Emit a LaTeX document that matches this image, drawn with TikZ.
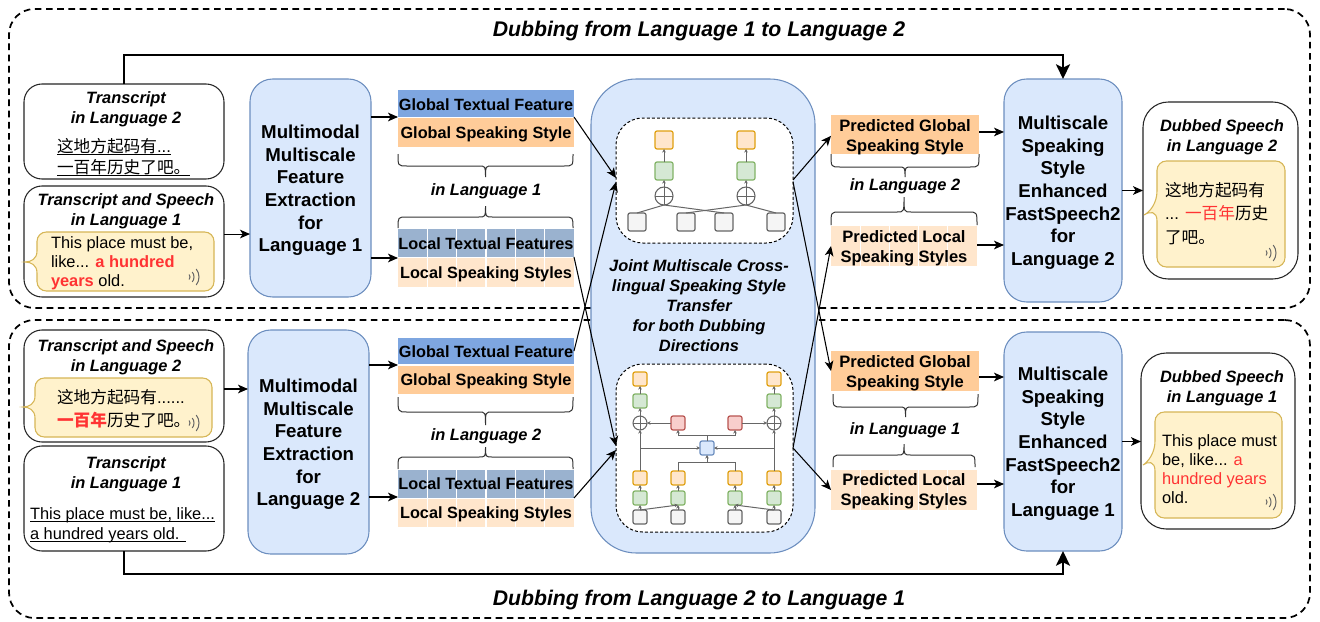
\documentclass[tikz,border=0pt]{standalone}
\usepackage{fontspec}
\setmainfont{Liberation Sans}
\newfontfamily\cjk{Noto Sans CJK SC}
\usetikzlibrary{arrows.meta,calc}
\definecolor{bluefill}{HTML}{DAE8FC}
\definecolor{bluedraw}{HTML}{6C8EBF}
\definecolor{gtfc}{HTML}{7EA6E0}
\definecolor{gssc}{HTML}{FFCC99}
\definecolor{ltfc}{HTML}{9AB2CF}
\definecolor{lssc}{HTML}{FFE6CC}
\definecolor{bubfill}{HTML}{FFF2CC}
\definecolor{bubdraw}{HTML}{D6B656}
\definecolor{txtred}{HTML}{FF3333}
\definecolor{netgray}{HTML}{666666}
\definecolor{ngf}{HTML}{D5E8D4}
\definecolor{ngd}{HTML}{82B366}
\definecolor{nod}{HTML}{E0A010}
\definecolor{nrf}{HTML}{F8CECC}
\definecolor{nrd}{HTML}{B85450}
\definecolor{ngr}{HTML}{F5F5F5}
\newcommand{\bx}[7]{%
  \pgfmathsetmacro\bxcx{(#3+#5)/2}%
  \pgfmathsetmacro\bxcy{(#4+#6)/2}%
  \pgfmathsetmacro\bxw{(#5-#3)*0.75}%
  \pgfmathsetmacro\bxh{(#6-#4)*0.75}%
  \node[#1,minimum width=\bxw pt,minimum height=\bxh pt] (#2) at (\bxcx,\bxcy) {#7};}
\newcommand{\sq}[5]{\node[#1,minimum size=#5] (#2) at (#3,#4) {};}
\newcommand{\harr}[3]{\draw[arr] ([yshift=#3]#1.east) -- ([yshift=#3]#1.east -| #2.west);}
\newcommand{\ul}[1]{\underline{\raisebox{0pt}[\height][0pt]{#1}}}
\newcommand{\tsb}{\rule{0pt}{13.6pt}}
\newcommand{\brcdown}[5]{% x0 x1 yEnd yBar yTip
  \pgfmathsetmacro\bm{(#1+#2)/2}%
  \draw[brc] (#1,#3) .. controls (#1,#4) and (#1,#4) .. ({#1+9},#4) -- ({\bm-7},#4)
     .. controls (\bm,#4) and (\bm,#4) .. (\bm,#5)
     (\bm,#5) .. controls (\bm,#4) and (\bm,#4) .. ({\bm+7},#4) -- ({#2-9},#4)
     .. controls (#2,#4) and (#2,#4) .. (#2,#3);}
\newcommand{\spk}[2]{%
  \foreach \r in {4,8,13}{\draw[bubicon] ([shift={(#1,#2)}]-38:\r) arc[start angle=-38,end angle=38,radius=\r];}}
\newcommand{\bubL}[6]{%
  \draw[bubble] (#1,{#6+11}) [rounded corners=7pt] -- (#1,#4) -- (#3,#4) -- (#3,#2) -- (#1,#2) [sharp corners] -- (#1,{#6-11})
    .. controls (#1,{#6-3}) and ({#1-6},#6) .. (#5,#6) .. controls ({#1-6},#6) and (#1,{#6+3}) .. (#1,{#6+11}) -- cycle;}
\newcommand{\bubR}[6]{%
  \draw[bubble] (#1,{#6+6}) [rounded corners=7pt] -- (#1,#4) -- (#3,#4) -- (#3,#2) -- (#1,#2) [sharp corners] -- (#1,{#6-24})
    .. controls (#1,{#6-12}) and ({#1-7},{#6-3}) .. (#5,#6) .. controls ({#1-7},{#6-4}) and (#1,{#6-4}) .. (#1,{#6+6}) -- cycle;}
\tikzset{
  x=.75pt,y=-.75pt,
  every node/.style={inner sep=0pt,outer sep=0pt},
  frame/.style={draw=black,dash pattern=on 5pt off 3.4pt,line width=1.3pt,fill=white,rounded corners=19pt},
  inbox/.style={draw=black!85,line width=.8pt,fill=white,rounded corners=13.5pt},
  tshift/.style={execute at begin node={\rule{0pt}{#1}}},
  bluebox/.style={draw=bluedraw,line width=.8pt,fill=bluefill,rounded corners=17pt,align=center,
     font=\fontsize{14}{17}\selectfont\bfseries},
  bar/.style={fill=#1,font=\fontsize{12.2}{15}\selectfont\bfseries,align=center},
  pbar/.style={fill=#1},
  ptxt/.style={font=\fontsize{12.4}{15}\selectfont\bfseries,align=center},
  cells/.style={path picture={\foreach \i in {1,...,\numexpr#1-1\relax}{
     \draw[white,line width=.8pt] ($(path picture bounding box.south west)!\i/#1!(path picture bounding box.south east)$) --
        ($(path picture bounding box.north west)!\i/#1!(path picture bounding box.north east)$);}}},
  ttl/.style={font=\fontsize{12.3}{15}\selectfont\bfseries\itshape,align=center},
  big/.style={font=\fontsize{15.9}{19}\selectfont\bfseries\itshape},
  body/.style={font=\fontsize{12.3}{14.25}\selectfont,align=left,anchor=west},
  cjkbody/.style={font=\fontsize{12.5}{16}\selectfont,align=left,anchor=west},
  arr/.style={draw=black,line width=.8pt,-{Stealth[length=7.5pt,width=6.5pt,inset=2pt]}},
  bigarr/.style={draw=black,line width=1.6pt,-{Stealth[length=11pt,width=10.5pt,inset=2.5pt]}},
  brc/.style={draw=black!80,line width=.75pt},
  bubble/.style={draw=bubdraw,fill=bubfill,line width=.8pt},
  bubicon/.style={draw=black!60,line width=.75pt},
  dashbox/.style={draw=black,fill=white,dash pattern=on 2.2pt off 1.6pt,line width=.75pt,rounded corners=20pt},
  ns/.style={rectangle,rounded corners=1.5pt,line width=.9pt},
  gr/.style={ns,draw=netgray,fill=ngr},
  gn/.style={ns,draw=ngd,fill=ngf},
  og/.style={ns,draw=nod,fill=lssc},
  rd/.style={ns,draw=nrd,fill=nrf},
  bl/.style={ns,draw=bluedraw,fill=bluefill},
  crc/.style={circle,draw=netgray,line width=.8pt,fill=none},
  nl/.style={draw=netgray,line width=.75pt},
  na/.style={draw=netgray,line width=.75pt,-{Stealth[length=2.6pt,width=2.6pt]}},
}
\begin{document}
\begin{tikzpicture}
\useasboundingbox (0,0) rectangle (1320,621);
% frames
\bx{frame}{fr1}{9}{9}{1310}{308}{}
\bx{frame}{fr2}{9}{320}{1310}{618}{}
\node[big] (tt1) at (699,31) {Dubbing from Language 1 to Language 2};
\node[big] (tt2) at (699,600) {Dubbing from Language 2 to Language 1};
% left boxes upper
\bx{inbox}{t2}{24}{84}{224}{179}{}
\node[ttl] (t2a) at (126,109) {Transcript\\in Language 2};
\node[cjkbody,font=\fontsize{12.5}{15.75}\selectfont] (t2b) at (57,157) {\ul{{\cjk 这地方起码有}...}\\\ul{{\cjk 一百年历史了吧。}}};
\bx{inbox}{tsl1}{24}{186}{224}{297}{}
\node[ttl] (tsl1a) at (126,211) {Transcript and Speech\\in Language 1};
\bubL{37}{232}{214}{291}{25}{262}
\node[body] (tsl1b) at (51,263.5) {This place must be,\\like... \textcolor{txtred}{\bfseries a hundred}\\\textcolor{txtred}{\bfseries years} old.};
\spk{186}{277}
% left boxes lower
\bx{inbox}{tsl2}{24}{330}{224}{442}{}
\node[ttl] (tsl2a) at (126,357) {Transcript and Speech\\in Language 2};
\bubL{35}{378}{212}{437}{23}{407}
\node[cjkbody,font=\fontsize{12.5}{17}\selectfont] (tsl2b) at (57,409) {{\cjk 这地方起码有}......\\\textcolor{txtred}{\cjk\bfseries 一百年}{\cjk 历史了吧。}};
\spk{186}{423}
\bx{inbox}{t1}{24}{446}{224}{551}{}
\node[ttl] (t1a) at (126,474) {Transcript\\in Language 1};
\node[body,font=\fontsize{12.3}{15}\selectfont] (t1b) at (30,525) {\ul{This place must be, like...}\\\ul{a hundred years old. }};
% blue extraction boxes
\bx{bluebox}{m1}{250}{79}{371}{297}{\tsb Multimodal\\Multiscale\\Feature\\Extraction\\for\\Language 1}
\bx{bluebox}{m2}{248}{330}{369}{554}{\tsb Multimodal\\Multiscale\\Feature\\Extraction\\for\\Language 2}
% feature bars upper
\bx{bar=gtfc,tshift=11pt}{gtf1}{398}{90}{574}{117}{Global Textual Feature}
\bx{bar=gssc,tshift=11pt}{gss1}{398}{118}{574}{147}{Global Speaking Style}
\bx{bar=ltfc,cells=6,tshift=9.5pt}{ltf1}{398}{229}{574}{257}{Local Textual Features}
\bx{bar=lssc,cells=6,tshift=11pt}{lss1}{398}{258}{574}{287}{Local Speaking Styles}
\brcdown{398}{573}{154}{166}{177}
\node[ttl] (il1) at (486,191) {in Language 1};
\brcdown{398}{573}{228}{217}{206}
% feature bars lower
\bx{bar=gtfc,tshift=9.5pt}{gtf2}{398}{338}{574}{364}{Global Textual Feature}
\bx{bar=gssc,tshift=11pt}{gss2}{398}{366}{574}{394}{Global Speaking Style}
\bx{bar=ltfc,cells=6,tshift=8.5pt}{ltf2}{398}{470}{574}{498}{Local Textual Features}
\bx{bar=lssc,cells=6,tshift=11pt}{lss2}{398}{499}{574}{527}{Local Speaking Styles}
\brcdown{398}{573}{397}{412}{425}
\node[ttl] (il2) at (486,436) {in Language 2};
\brcdown{398}{573}{469}{457}{447}
% centre
\bx{draw=bluedraw,line width=.8pt,fill=bluefill,rounded corners=34pt}{cb}{591}{79}{815}{553}{}
\bx{dashbox}{ud}{616}{118}{793}{243}{}
\bx{dashbox}{ld}{616}{364}{793}{532}{}
\node[ttl] (jt) at (699,305.5) {Joint Multiscale Cross-\\lingual Speaking Style\\Transfer\\for both Dubbing\\Directions};
% upper network
\sq{og}{ua1}{664}{140}{13.5pt}\sq{og}{ua2}{746}{140}{13.5pt}
\sq{gn}{ub1}{664}{171}{13.5pt}\sq{gn}{ub2}{746}{171}{13.5pt}
\node[crc,minimum size=13.5pt] (uc1) at (664,196) {};
\node[crc,minimum size=13.5pt] (uc2) at (746,196) {};
\sq{gr}{ug1}{637}{222}{13.5pt}\sq{gr}{ug2}{686}{222}{13.5pt}
\sq{gr}{ug3}{724}{222}{13.5pt}\sq{gr}{ug4}{776}{222}{13.5pt}
\draw[nl] (uc1.north)--(uc1.south) (uc1.west)--(uc1.east) (uc2.north)--(uc2.south) (uc2.west)--(uc2.east);
\draw[na] (ub1.north)--(ua1.south);
\draw[na] (ub2.north)--(ua2.south);
\draw[na] (uc1.north)--(ub1.south);
\draw[na] (uc2.north)--(ub2.south);
\draw[nl] (ug1.north)--(uc1.south);
\draw[nl] (ug3.north)--(uc1.south);
\draw[nl] (ug2.north)--(uc2.south);
\draw[nl] (ug4.north)--(uc2.south);
% lower network
\coordinate (hb) at (707,435);
\coordinate (hc) at (707,462);
\sq{og}{la1}{640}{379}{10.5pt}\sq{og}{la2}{774}{379}{10.5pt}
\sq{gn}{lb1}{640}{401}{10.5pt}\sq{gn}{lb2}{774}{401}{10.5pt}
\node[crc,minimum size=10.5pt] (lc1) at (640,423) {};
\node[crc,minimum size=10.5pt] (lc2) at (774,423) {};
\sq{rd}{lr1}{678}{423}{10.5pt}\sq{rd}{lr2}{735}{423}{10.5pt}
\sq{bl}{lq}{707}{448}{10.5pt}
\sq{og}{lo1}{640}{478}{10.5pt}\sq{og}{lo2}{678}{478}{10.5pt}\sq{og}{lo3}{735}{478}{10.5pt}\sq{og}{lo4}{774}{478}{10.5pt}
\sq{gn}{lg1}{640}{498}{10.5pt}\sq{gn}{lg2}{678}{498}{10.5pt}\sq{gn}{lg3}{735}{498}{10.5pt}\sq{gn}{lg4}{774}{498}{10.5pt}
\sq{gr}{lh1}{640}{517}{10.5pt}\sq{gr}{lh2}{678}{517}{10.5pt}\sq{gr}{lh3}{735}{517}{10.5pt}\sq{gr}{lh4}{774}{517}{10.5pt}
\draw[nl] (lc1.north)--(lc1.south) (lc1.west)--(lc1.east) (lc2.north)--(lc2.south) (lc2.west)--(lc2.east);
\foreach \c in {1,2}{
  \draw[na] (lb\c.north)--(la\c.south);
  \draw[na] (lc\c.north)--(lb\c.south);}
\draw[na] (lg1.north)--(lo1.south);\draw[na] (lg2.north)--(lo2.south);\draw[na] (lg3.north)--(lo3.south);\draw[na] (lg4.north)--(lo4.south);
\draw[na] (lh1.north)--(lg1.south);\draw[na] (lh2.north)--(lg2.south);\draw[na] (lh3.north)--(lg3.south);\draw[na] (lh4.north)--(lg4.south);
\draw[na] (lh1.north)--(lg2.south);
\draw[na] (lh4.north)--(lg3.south);
\draw[na] (lo1.north)--(lc1.south);
\draw[na] (lo4.north)--(lc2.south);
\draw[na] (lo1.north|-lq.west)--(lq.west);
\draw[na] (lo4.north|-lq.east)--(lq.east);
\draw[na] (lr1.west)--(lc1.east);
\draw[na] (lr2.east)--(lc2.west);
\draw[nl] (lq.north)--(hb);
\draw[na] (hb)-|(lr1.south);
\draw[na] (hb)-|(lr2.south);
\draw[nl] (lo2.north)|-(hc);
\draw[nl] (lo3.north)|-(hc);
\draw[na] (hc)--(lq.south);
% predicted bars upper
\bx{pbar=gssc}{pg1}{831}{115}{979}{154}{}
\node[ptxt] (pg1t) at (905,137) {Predicted Global\\Speaking Style};
\bx{pbar=lssc,cells=5}{pl1}{831}{226}{977}{266}{}
\node[ptxt] (pl1t) at (904,248) {Predicted Local\\Speaking Styles};
\brcdown{831}{979}{154}{167}{177}
\node[ttl] (ir1) at (905,186) {in Language 2};
\brcdown{831}{977}{225}{212}{197}
% predicted bars lower
\bx{pbar=gssc}{pg2}{831}{351}{979}{391}{}
\node[ptxt] (pg2t) at (905,373.5) {Predicted Global\\Speaking Style};
\bx{pbar=lssc,cells=5}{pl2}{831}{470}{977}{510}{}
\node[ptxt] (pl2t) at (904,491.5) {Predicted Local\\Speaking Styles};
\brcdown{833}{978}{394}{407}{417}
\node[ttl] (ir2) at (905,430) {in Language 1};
\brcdown{833}{975}{467}{455}{444}
% right blue boxes
\bx{bluebox}{r1}{1004}{79}{1122}{302}{\tsb Multiscale\\Speaking\\Style\\Enhanced\\FastSpeech2\\for\\Language 2}
\bx{bluebox}{r2}{1004}{332}{1122}{551}{\tsb Multiscale\\Speaking\\Style\\Enhanced\\FastSpeech2\\for\\Language 1}
% dubbed boxes
\bx{inbox,rounded corners=19pt}{dub1}{1143}{102}{1298}{279}{}
\node[ttl] (dub1a) at (1222,137) {Dubbed Speech\\in Language 2};
\bubR{1157}{161}{1285}{267}{1144}{215}
\node[cjkbody,font=\fontsize{12.5}{17.5}\selectfont] (dub1b) at (1165,213.5) {{\cjk 这地方起码有}\\... \textcolor{txtred}{\cjk 一百年}{\cjk 历史}\\{\cjk 了吧。}};
\spk{1263}{253}
\bx{inbox,rounded corners=19pt}{dub2}{1141}{353}{1295}{529}{}
\node[ttl] (dub2a) at (1222,388) {Dubbed Speech\\in Language 1};
\bubR{1155}{412}{1282}{518}{1143}{465}
\node[body] (dub2b) at (1162,469) {This place must\\be, like... \textcolor{txtred}{a}\\\textcolor{txtred}{hundred years}\\old.};
\spk{1263}{502}
% horizontal connectors
\harr{tsl1}{m1}{5.6pt}
\harr{tsl2}{m2}{-2.25pt}
\harr{m1}{gtf1}{53.25pt}
\harr{m1}{ltf1}{-52.5pt}
\harr{m2}{gtf2}{57.75pt}
\harr{m2}{ltf2}{-41.25pt}
\harr{pg1}{r1}{1.9pt}
\harr{pl1}{r1}{.75pt}
\harr{pg2}{r2}{-4.5pt}
\harr{pl2}{r2}{4.5pt}
\harr{r1}{dub1}{0pt}
\harr{r2}{dub2}{0pt}
% central connectors
\draw[arr] (gtf1.south east) -- ([yshift=1.9pt]ud.west);
\draw[arr] (gtf2.east) -- ([yshift=-1.1pt]ud.west);
\draw[arr] (ltf1.south east) -- ([yshift=1.5pt]ld.west);
\draw[arr] (ltf2.south east) -- ([yshift=-1.5pt]ld.west);
\draw[arr] ([yshift=.4pt]ud.east) -- ([yshift=-1pt]pg1.west);
\draw[arr] ([yshift=-1pt]ud.east) -- (pg2.west);
\draw[arr] (ld.east) -- (pl1.west);
\draw[arr] (ld.east) -- (pl2.west);
% long connectors
\coordinate (top) at (0,55);
\coordinate (bot) at (0,574);
\draw[bigarr] (t2.north) -- (t2.north|-top) -- (r1.north|-top) -- (r1.north);
\draw[bigarr] (t1.south) -- (t1.south|-bot) -- (r2.south|-bot) -- (r2.south);
\end{tikzpicture}
\end{document}
